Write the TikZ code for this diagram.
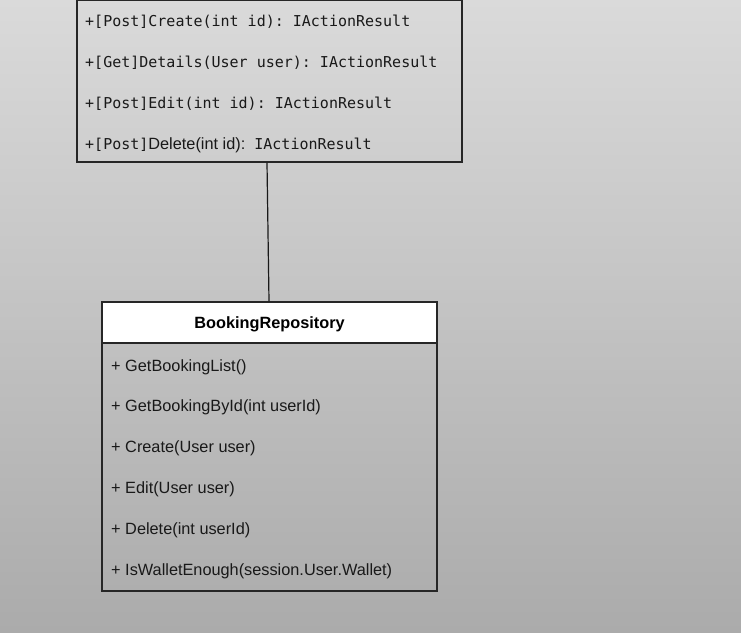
\documentclass[tikz,border=0pt]{standalone}
\usepackage{fontspec}
\setmainfont{Liberation Sans}
\newfontfamily\monof{DejaVu Sans Mono}
\frenchspacing
\begin{document}
\begin{tikzpicture}[x=1pt,y=-1pt,
  classbox/.style={draw=black!85,line width=1.3pt,rectangle,inner sep=0pt},
  headbox/.style={classbox,fill=white},
  monotext/.style={anchor=base west,inner sep=0pt,font=\frenchspacing\monof\fontsize{15}{18}\selectfont,text=black!90},
  sanstext/.style={anchor=base west,inner sep=0pt,font=\fontsize{16.3}{19}\selectfont,text=black!90},
  titletext/.style={anchor=base,inner sep=0pt,font=\bfseries\fontsize{16.3}{19}\selectfont,text=black},
  link/.style={draw=black!90,line width=1.2pt}]
\useasboundingbox (0,0) rectangle (741,632);
\shade[top color={rgb,255:red,218;green,218;blue,218},bottom color={rgb,255:red,171;green,171;blue,171}] (0,0) rectangle (741,632);
% Controller class (top, partly cut)
\node[classbox,minimum width=385pt,minimum height=162pt] (ctrl) at (269.5,81) {};
\node[monotext] (c1) at (85,26) {+[Post]Create(int id): IActionResult};
\node[monotext] (c2) at (85,67) {+[Get]Details(User user): IActionResult};
\node[monotext] (c3) at (85,108) {+[Post]Edit(int id): IActionResult};
\node[monotext] (c4) at (85,149) {+[Post]{\rmfamily\fontsize{16.3}{19}\selectfont Delete(int id):} IActionResult};
% BookingRepository class
\node[classbox,minimum width=335pt,minimum height=289pt] (repo) at (269.5,446.5) {};
\node[headbox,minimum width=335pt,minimum height=41pt] (repohead) at (269.5,322.5) {};
\node[titletext] (title) at (269.5,328) {BookingRepository};
\node[sanstext] (r1) at (111,371) {+ GetBookingList()};
\node[sanstext] (r2) at (111,411.5) {+ GetBookingById(int userId)};
\node[sanstext] (r3) at (111,452.5) {+ Create(User user)};
\node[sanstext] (r4) at (111,493.5) {+ Edit(User user)};
\node[sanstext] (r5) at (111,534.5) {+ Delete(int userId)};
\node[sanstext] (r6) at (111,575.5) {+ IsWalletEnough(session.User.Wallet)};
% connector
\draw[link] ([xshift=-2.5pt]ctrl.south) -- ([xshift=-0.5pt]repohead.north);
\end{tikzpicture}
\end{document}
